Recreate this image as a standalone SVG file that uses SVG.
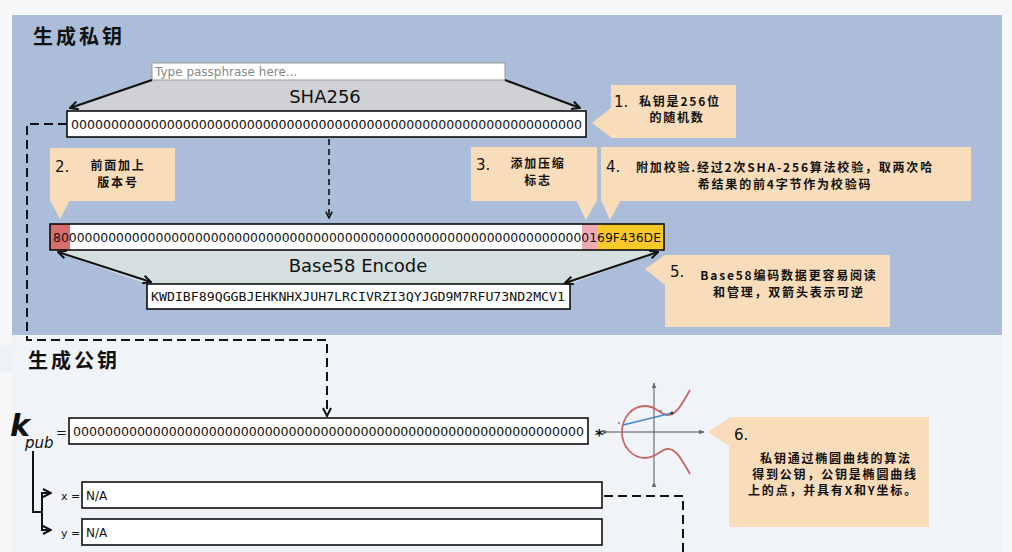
<svg xmlns="http://www.w3.org/2000/svg" width="1012" height="552" viewBox="0 0 1012 552">
<defs>
<style>
.cjk{font-family:"Noto Sans CJK SC",sans-serif;font-weight:bold;fill:#111;letter-spacing:1.8px}
.title{font-family:"Noto Sans CJK SC",sans-serif;font-weight:bold;font-size:20px;fill:#111;letter-spacing:3px}
.num{font-family:"DejaVu Sans","Liberation Sans",sans-serif;font-size:15px;fill:#111}
.callout{fill:#f9dcb9}
.box{fill:#fff;stroke:#000;stroke-width:1.5}
.zeros{font-family:"DejaVu Sans","Liberation Sans",sans-serif;font-size:12.5px;fill:#111}
.mono{font-family:"DejaVu Sans Mono","Liberation Mono",monospace;font-size:12px;fill:#111}
.big{font-family:"DejaVu Sans","Liberation Sans",sans-serif;font-size:18px;fill:#111}
.dash{fill:none;stroke:#111;stroke-width:2;stroke-dasharray:9 5}
.dashthin{fill:none;stroke:#111;stroke-width:1.6;stroke-dasharray:6 4}
.solid{fill:none;stroke:#111;stroke-width:2}
</style>
<marker id="ah" viewBox="0 0 10 10" refX="9" refY="5" markerWidth="5" markerHeight="5" orient="auto-start-reverse">
<path d="M1,1 L9,5 L1,9" fill="none" stroke="#111" stroke-width="2"/>
</marker>
<marker id="ahs" viewBox="0 0 10 10" refX="9" refY="5" markerWidth="6" markerHeight="6" orient="auto">
<path d="M0,1 L10,5 L0,9 Z" fill="#666"/>
</marker>
</defs>
<rect width="1012" height="552" fill="#f7f7f8"/>
<rect x="12" y="15" width="990" height="320" fill="#abbdd8"/>
<rect x="12" y="335" width="990" height="217" fill="#f0f3f7"/>
<rect x="0" y="345" width="12" height="27" fill="#eef2f6"/>

<g id="private-title"><text x="33" y="44" class="title">生成私钥</text></g>

<g id="sha256">
<polygon points="152,80 505,80 588,111 67,111" fill="#d0d1d5"/>
<rect x="152" y="63" width="353" height="17" fill="#fff" stroke="#999" stroke-width="1"/>
<text x="155" y="76" font-family="DejaVu Sans, sans-serif" font-size="12" fill="#888">Type passphrase here...</text>
<text x="325" y="103" class="big" text-anchor="middle">SHA256</text>
</g>

<g id="private-key">
<rect x="67" y="111" width="519" height="26" class="box"/>
<text x="71" y="129" class="zeros" textLength="511" lengthAdjust="spacingAndGlyphs">0000000000000000000000000000000000000000000000000000000000000000</text>
</g>

<g id="callout1">
<polygon points="592,123 611,108 611,137" class="callout"/>
<rect x="611" y="85" width="125" height="53" class="callout"/>
<text x="614" y="107" class="num">1.</text>
<text x="639" y="106" class="cjk" font-size="12">私钥是256位</text>
<text x="677" y="122" class="cjk" font-size="12" text-anchor="middle">的随机数</text>
</g>

<g id="callout2">
<polygon points="50,200 70,200 60,219" class="callout"/>
<rect x="50" y="148" width="125" height="53" class="callout"/>
<text x="55" y="172" class="num">2.</text>
<text x="118" y="170" class="cjk" font-size="12" text-anchor="middle">前面加上</text>
<text x="118" y="187" class="cjk" font-size="12" text-anchor="middle">版本号</text>
</g>

<g id="callout3">
<polygon points="576,200 597,200 586,220" class="callout"/>
<rect x="471" y="147" width="126" height="54" class="callout"/>
<text x="476" y="170" class="num">3.</text>
<text x="538" y="168" class="cjk" font-size="12" text-anchor="middle">添加压缩</text>
<text x="538" y="185" class="cjk" font-size="12" text-anchor="middle">标志</text>
</g>

<g id="callout4">
<polygon points="601,200 621,200 610,220" class="callout"/>
<rect x="601" y="147" width="370" height="54" class="callout"/>
<text x="606" y="172" class="num">4.</text>
<text x="785" y="172" class="cjk" font-size="12" text-anchor="middle">附加校验.经过2次SHA-256算法校验，取两次哈</text>
<text x="785" y="189" class="cjk" font-size="12" text-anchor="middle">希结果的前4字节作为校验码</text>
</g>

<g id="base58">
<polygon points="50,250 664,250 570,284 147,284" fill="#d5dfdf"/>
<text x="358" y="272" class="big" text-anchor="middle">Base58 Encode</text>
</g>

<g id="extended-key">
<rect x="50" y="224" width="614" height="26" fill="#fff"/>
<rect x="50" y="224" width="20" height="26" fill="#d86f6f"/>
<rect x="582" y="224" width="16" height="26" fill="#eeaab6"/>
<rect x="598" y="224" width="66" height="26" fill="#f9c92a"/>
<rect x="50" y="224" width="614" height="26" fill="none" stroke="#000" stroke-width="1.5"/>
<text x="53" y="242" class="zeros" textLength="608" lengthAdjust="spacingAndGlyphs">80000000000000000000000000000000000000000000000000000000000000000000169F436DE</text>
</g>

<g id="base58-key">
<rect x="147" y="284" width="423" height="25" class="box"/>
<text x="151" y="301" class="mono" textLength="414" lengthAdjust="spacingAndGlyphs">KWDIBF89QGGBJEHKNHXJUH7LRCIVRZI3QYJGD9M7RFU73ND2MCV1</text>
</g>

<g id="callout5">
<polygon points="645,269 665,255 665,285" class="callout"/>
<rect x="665" y="255" width="225" height="72" class="callout"/>
<text x="670" y="277" class="num">5.</text>
<text x="789" y="280" class="cjk" font-size="12" text-anchor="middle">Base58编码数据更容易阅读</text>
<text x="789" y="297" class="cjk" font-size="12" text-anchor="middle">和管理，双箭头表示可逆</text>
</g>

<g id="public-title"><text x="28" y="368" class="title">生成公钥</text></g>

<g id="kpub-label">
<text x="10" y="436" font-family="DejaVu Sans, sans-serif" font-size="30" font-style="italic" font-weight="bold" fill="#111">k</text>
<text x="25" y="448" font-family="DejaVu Sans, sans-serif" font-size="15" font-style="italic" fill="#111">pub</text>
<text x="56" y="437" font-family="DejaVu Sans, sans-serif" font-size="13" fill="#111">=</text>
</g>

<g id="public-key">
<rect x="69" y="418" width="519" height="26" class="box"/>
<text x="73" y="436" class="zeros" textLength="511" lengthAdjust="spacingAndGlyphs">0000000000000000000000000000000000000000000000000000000000000000</text>
<text x="595" y="441" font-family="DejaVu Sans, sans-serif" font-size="16" font-weight="bold" fill="#111">*</text>
</g>

<g id="curve">
<line x1="608" y1="432" x2="704" y2="432" stroke="#555" stroke-width="1" marker-end="url(#ahs)" marker-start="url(#ahs)"/>
<line x1="654" y1="482" x2="654" y2="383" stroke="#555" stroke-width="1" marker-end="url(#ahs)" marker-start="url(#ahs)"/>
<path d="M690,390 C682,404 676,416 667,415 C660,414 656,406 645,406 C632,406 622,418 622,432 C622,446 632,458 645,458 C656,458 660,450 667,449 C676,448 682,460 690,474" fill="none" stroke="#c86666" stroke-width="1.8"/>
<line x1="623" y1="425" x2="672" y2="413" stroke="#4a86c8" stroke-width="1.8"/>
<circle cx="672" cy="413" r="1.5" fill="#333"/>
<circle cx="619" cy="423" r="1" fill="#777"/>
<circle cx="661" cy="411" r="1" fill="#777"/>
</g>

<g id="callout6">
<polygon points="708,432 729,418 729,446" class="callout"/>
<rect x="729" y="417" width="200" height="110" class="callout"/>
<text x="734" y="440" class="num">6.</text>
<text x="836" y="463" class="cjk" font-size="12" text-anchor="middle">私钥通过椭圆曲线的算法</text>
<text x="835" y="479" class="cjk" font-size="12" text-anchor="middle">得到公钥，公钥是椭圆曲线</text>
<text x="833" y="495" class="cjk" font-size="12" text-anchor="middle">上的点，并具有X和Y坐标。</text>
</g>

<g id="x-coord">
<text x="61" y="500" font-family="DejaVu Sans, sans-serif" font-size="11" fill="#111">x =</text>
<rect x="82" y="482" width="520" height="26" class="box"/>
<text x="86" y="500" font-family="DejaVu Sans, sans-serif" font-size="12" fill="#111">N/A</text>
</g>

<g id="y-coord">
<text x="61" y="537" font-family="DejaVu Sans, sans-serif" font-size="11" fill="#111">y =</text>
<rect x="82" y="519" width="520" height="26" class="box"/>
<text x="86" y="537" font-family="DejaVu Sans, sans-serif" font-size="12" fill="#111">N/A</text>
</g>

<g id="connectors">
<line x1="152" y1="80" x2="70" y2="108" class="solid" stroke-width="1.8" marker-end="url(#ah)"/>
<line x1="505" y1="80" x2="580" y2="108" class="solid" stroke-width="1.8" marker-end="url(#ah)"/>
<line x1="58" y1="252" x2="151" y2="282" class="solid" stroke-width="1.8" marker-start="url(#ah)" marker-end="url(#ah)"/>
<line x1="658" y1="252" x2="565" y2="283" class="solid" stroke-width="1.8" marker-start="url(#ah)" marker-end="url(#ah)"/>
<path d="M329,139 V218" class="dashthin" marker-end="url(#ah)"/>
<path d="M67,124 H27 V340 H327 V416" class="dash" marker-end="url(#ah)"/>
<path d="M604,496 H683 V552" class="dash"/>
<path d="M33,451 V512 H42" class="solid"/>
<path d="M42,530 V493 H51" class="solid" marker-end="url(#ah)"/>
<path d="M42,528 V530 H51" class="solid" marker-end="url(#ah)"/>
</g>
</svg>
